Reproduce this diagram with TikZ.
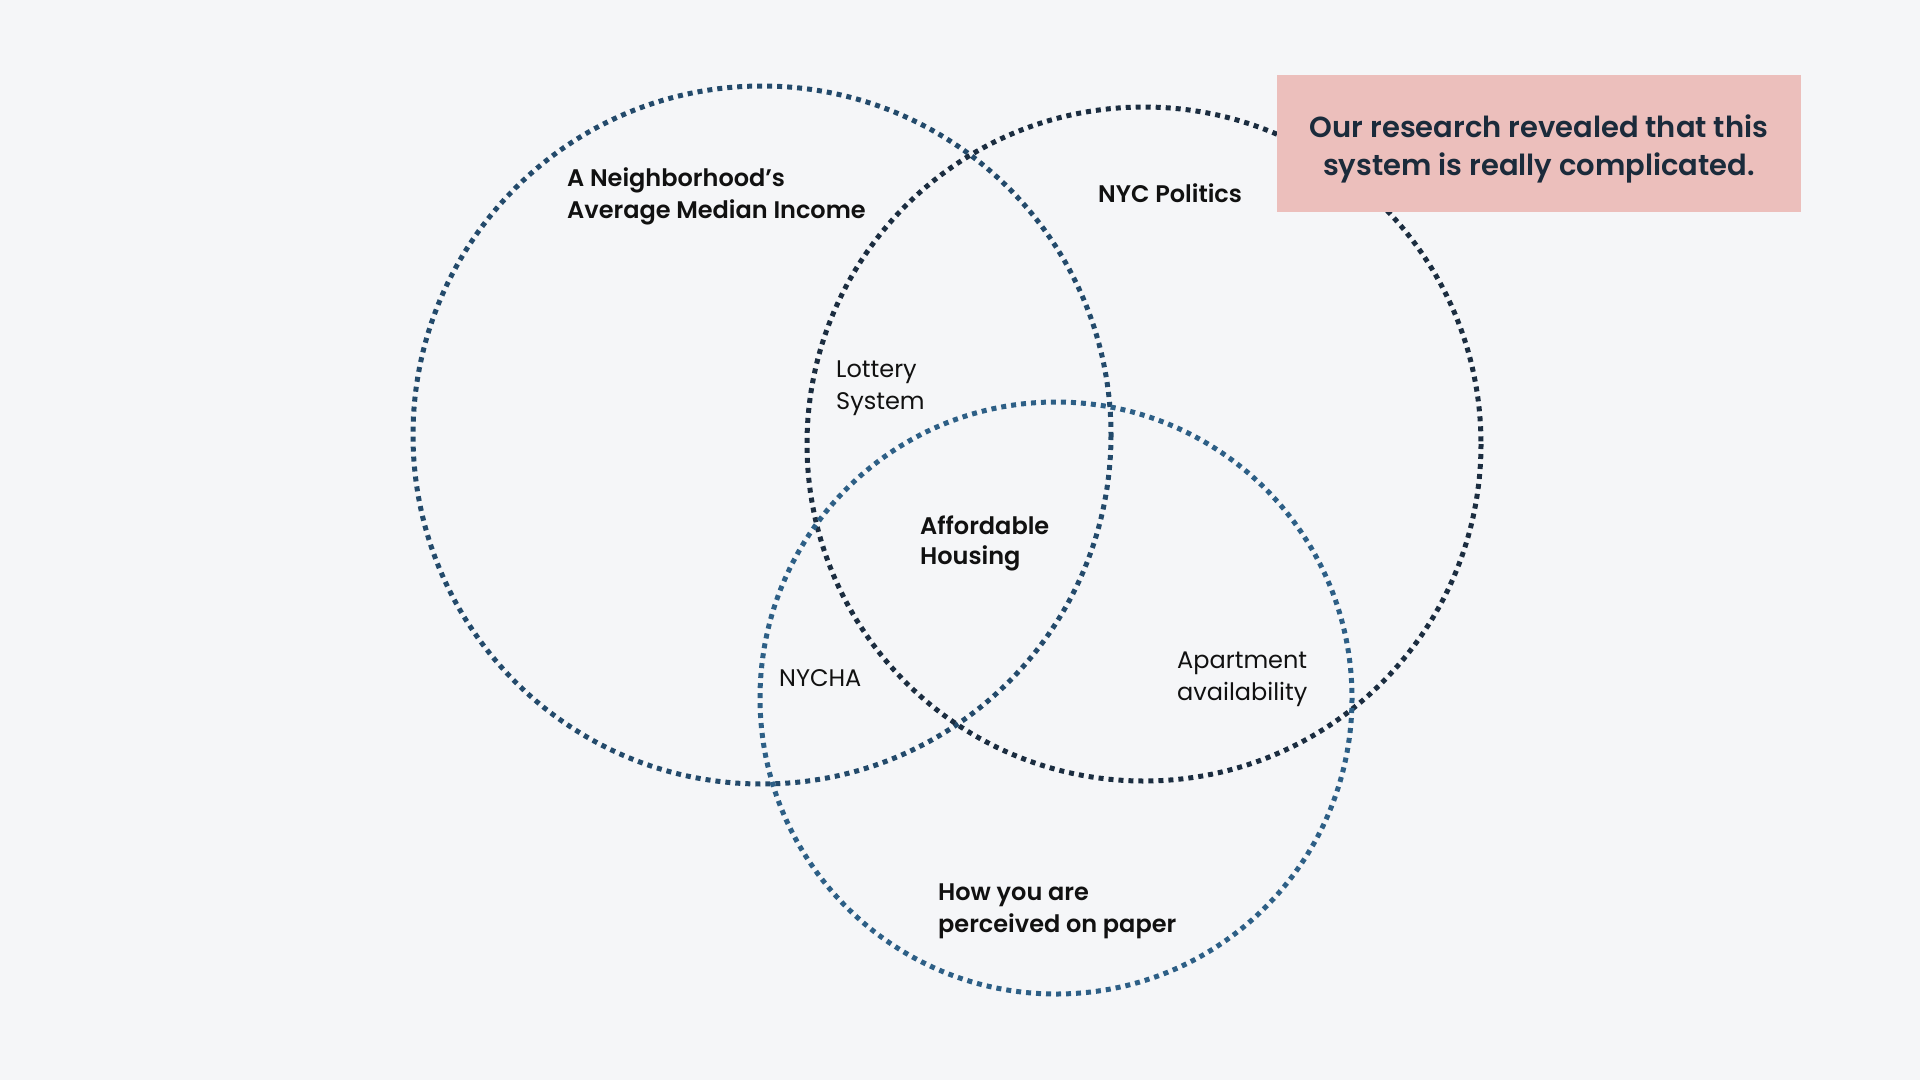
\documentclass[tikz,border=0pt]{standalone}
\usepackage{fontspec}
\setmainfont{Poppins}
\newfontfamily\medfont{Poppins Medium}
\newfontfamily\semifont{Poppins SemiBold}
\definecolor{bg}{HTML}{F5F6F8}
\definecolor{cone}{HTML}{234A6B}
\definecolor{ctwo}{HTML}{1B2D40}
\definecolor{cthree}{HTML}{2D5F86}
\definecolor{pinkbox}{HTML}{ECBFBC}
\definecolor{boxtext}{HTML}{1B2B3B}
\definecolor{labeltext}{HTML}{111111}
\tikzset{
  ring/.style={line width=5pt, dash pattern=on 5pt off 5pt},
  lbl/.style={anchor=base west, inner sep=0pt, align=left, text=labeltext, font=\semifont\fontsize{24}{32}\selectfont},
  lblreg/.style={anchor=base west, inner sep=0pt, align=left, text=labeltext, font=\fontsize{24}{32}\selectfont},
}
\begin{document}
\begin{tikzpicture}[x=1pt,y=-1pt]
\useasboundingbox (0,0) rectangle (1920,1080);
\fill[bg] (0,0) rectangle (1920,1080);
\draw[ring, cone] (762,435) circle[radius=349];
\draw[ring, ctwo] (1144,444) circle[radius=337];
\draw[ring, cthree] (1056,698) circle[radius=296];
\node[fill=pinkbox, minimum width=524pt, minimum height=137pt, inner sep=0pt, anchor=north west] (box) at (1277,75) {};
\node[anchor=base, inner sep=0pt, align=center, text=boxtext, font=\semifont\fontsize{29}{38}\selectfont] (boxtxt) at (1539,175) {Our research revealed that this\\system is really complicated.};
\node[lbl] (income) at (567,218) {A Neighborhood’s\\Average Median Income};
\node[lbl] (politics) at (1098,202) {NYC Politics};
\node[lblreg] (lottery) at (836,409) {Lottery\\System};
\node[lbl, font=\semifont\fontsize{24}{30}\selectfont] (afford) at (920,564) {Affordable\\Housing};
\node[lblreg] (nycha) at (779,686) {NYCHA};
\node[lblreg] (apt) at (1177,700) {Apartment\\availability};
\node[lbl] (paper) at (938,932) {How you are\\perceived on paper};
\end{tikzpicture}
\end{document}
